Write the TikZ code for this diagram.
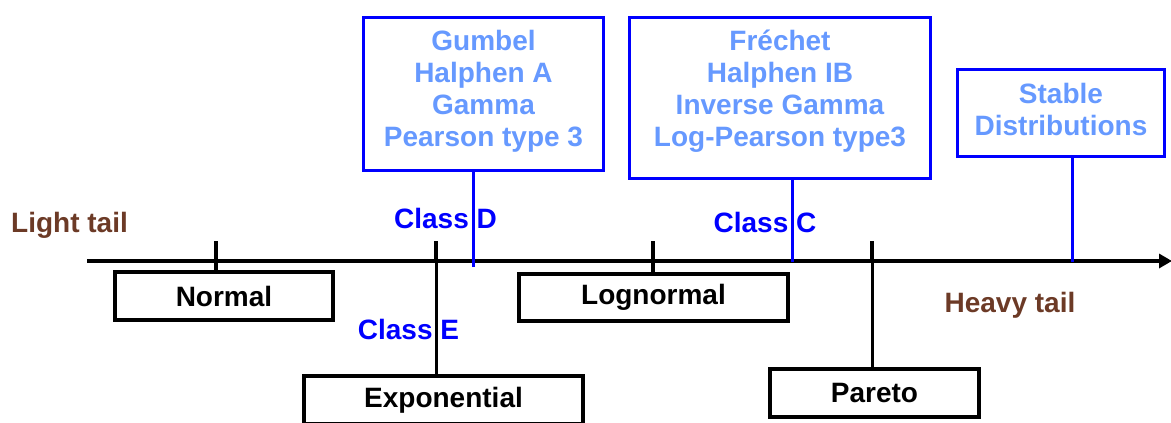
\documentclass[tikz,border=0pt]{standalone}
\usepackage{fontspec}
\setmainfont{Liberation Sans}
\usetikzlibrary{arrows.meta}
\definecolor{lblue}{RGB}{102,153,255}
\definecolor{tailbrown}{RGB}{108,58,38}
\definecolor{pblue}{RGB}{0,0,255}
\begin{document}
\begin{tikzpicture}[x=1pt,y=-1pt,
  font=\fontsize{28}{32}\selectfont\bfseries,
  blackbox/.style={draw=black,line width=4pt,inner sep=0pt},
  bluebox/.style={draw=pblue,line width=3.5pt,inner sep=0pt},
  bluetext/.style={text=lblue,align=center,inner sep=0pt},
  classlbl/.style={text=pblue,inner sep=0pt},
  taillbl/.style={text=tailbrown,inner sep=0pt},
  tickln/.style={line width=4pt},
  stemln/.style={line width=3pt},
  conn/.style={draw=pblue,line width=3pt}]
\clip (0,0) rectangle (1171,423);
\useasboundingbox (0,0) rectangle (1171,423);

% axis
\coordinate (axL) at (87,261);
\coordinate (axR) at (1172,261);
\draw[line width=4pt,-{Triangle[length=13pt,width=14pt]}] (axL) -- (axR);

% tail labels
\node[taillbl] (light) at (69.5,225) {Light tail};
\node[taillbl] (heavy) at (1010,305) {Heavy tail};

% black boxes
\node[blackbox,minimum width=218pt,minimum height=48pt] (normal) at (224,296) {Normal};
\node[blackbox,minimum width=269pt,minimum height=47pt] (lognormal) at (653.5,297) {Lognormal};
\node[blackbox,minimum width=279pt,minimum height=48pt] (expo) at (443.5,400) {Exponential};
\node[blackbox,minimum width=209pt,minimum height=48pt] (pareto) at (874.5,393) {Pareto};

% tick coordinates
\coordinate (tN) at (216,241);
\coordinate (tE) at (436,241);
\coordinate (tE2) at (436,263);
\coordinate (tL) at (653,241);
\coordinate (tP) at (872,241);
\coordinate (tP2) at (872,263);

\draw[tickln] (tN) -- (tN |- normal.north);
\draw[tickln] (tL) -- (tL |- lognormal.north);
\draw[tickln] (tE) -- (tE2);
\draw[stemln] (tE2) -- (tE2 |- expo.north);
\draw[tickln] (tP) -- (tP2);
\draw[stemln] (tP2) -- (tP2 |- pareto.north);

% blue boxes
\node[bluebox,minimum width=240pt,minimum height=153pt] (gumbelbox) at (483.5,94) {};
\node[bluetext] (gumbeltxt) at (483.5,91) {Gumbel\\Halphen A\\Gamma\\Pearson type 3};
\node[bluebox,minimum width=301pt,minimum height=161pt] (frechetbox) at (780,98) {};
\node[bluetext] (frechettxt) at (780,91) {Fréchet\\Halphen IB\\Inverse Gamma\\Log-Pearson type3};
\node[bluebox,minimum width=207pt,minimum height=87pt] (stablebox) at (1061,113) {};
\node[bluetext] (stabletxt) at (1061,109) {Stable\\Distributions};

% class labels
\node[classlbl] (classD) at (445.5,218) {Class D};
\node[classlbl] (classC) at (765,222) {Class C};
\node[classlbl] (classE) at (408.5,329) {Class E};

% blue connectors
\coordinate (cD) at (473,267);
\coordinate (cC) at (792,262);
\coordinate (cS) at (1072,262);
\draw[conn] (cD) -- (cD |- gumbelbox.south);
\draw[conn] (cC) -- (cC |- frechetbox.south);
\draw[conn] (cS) -- (cS |- stablebox.south);
\end{tikzpicture}
\end{document}
